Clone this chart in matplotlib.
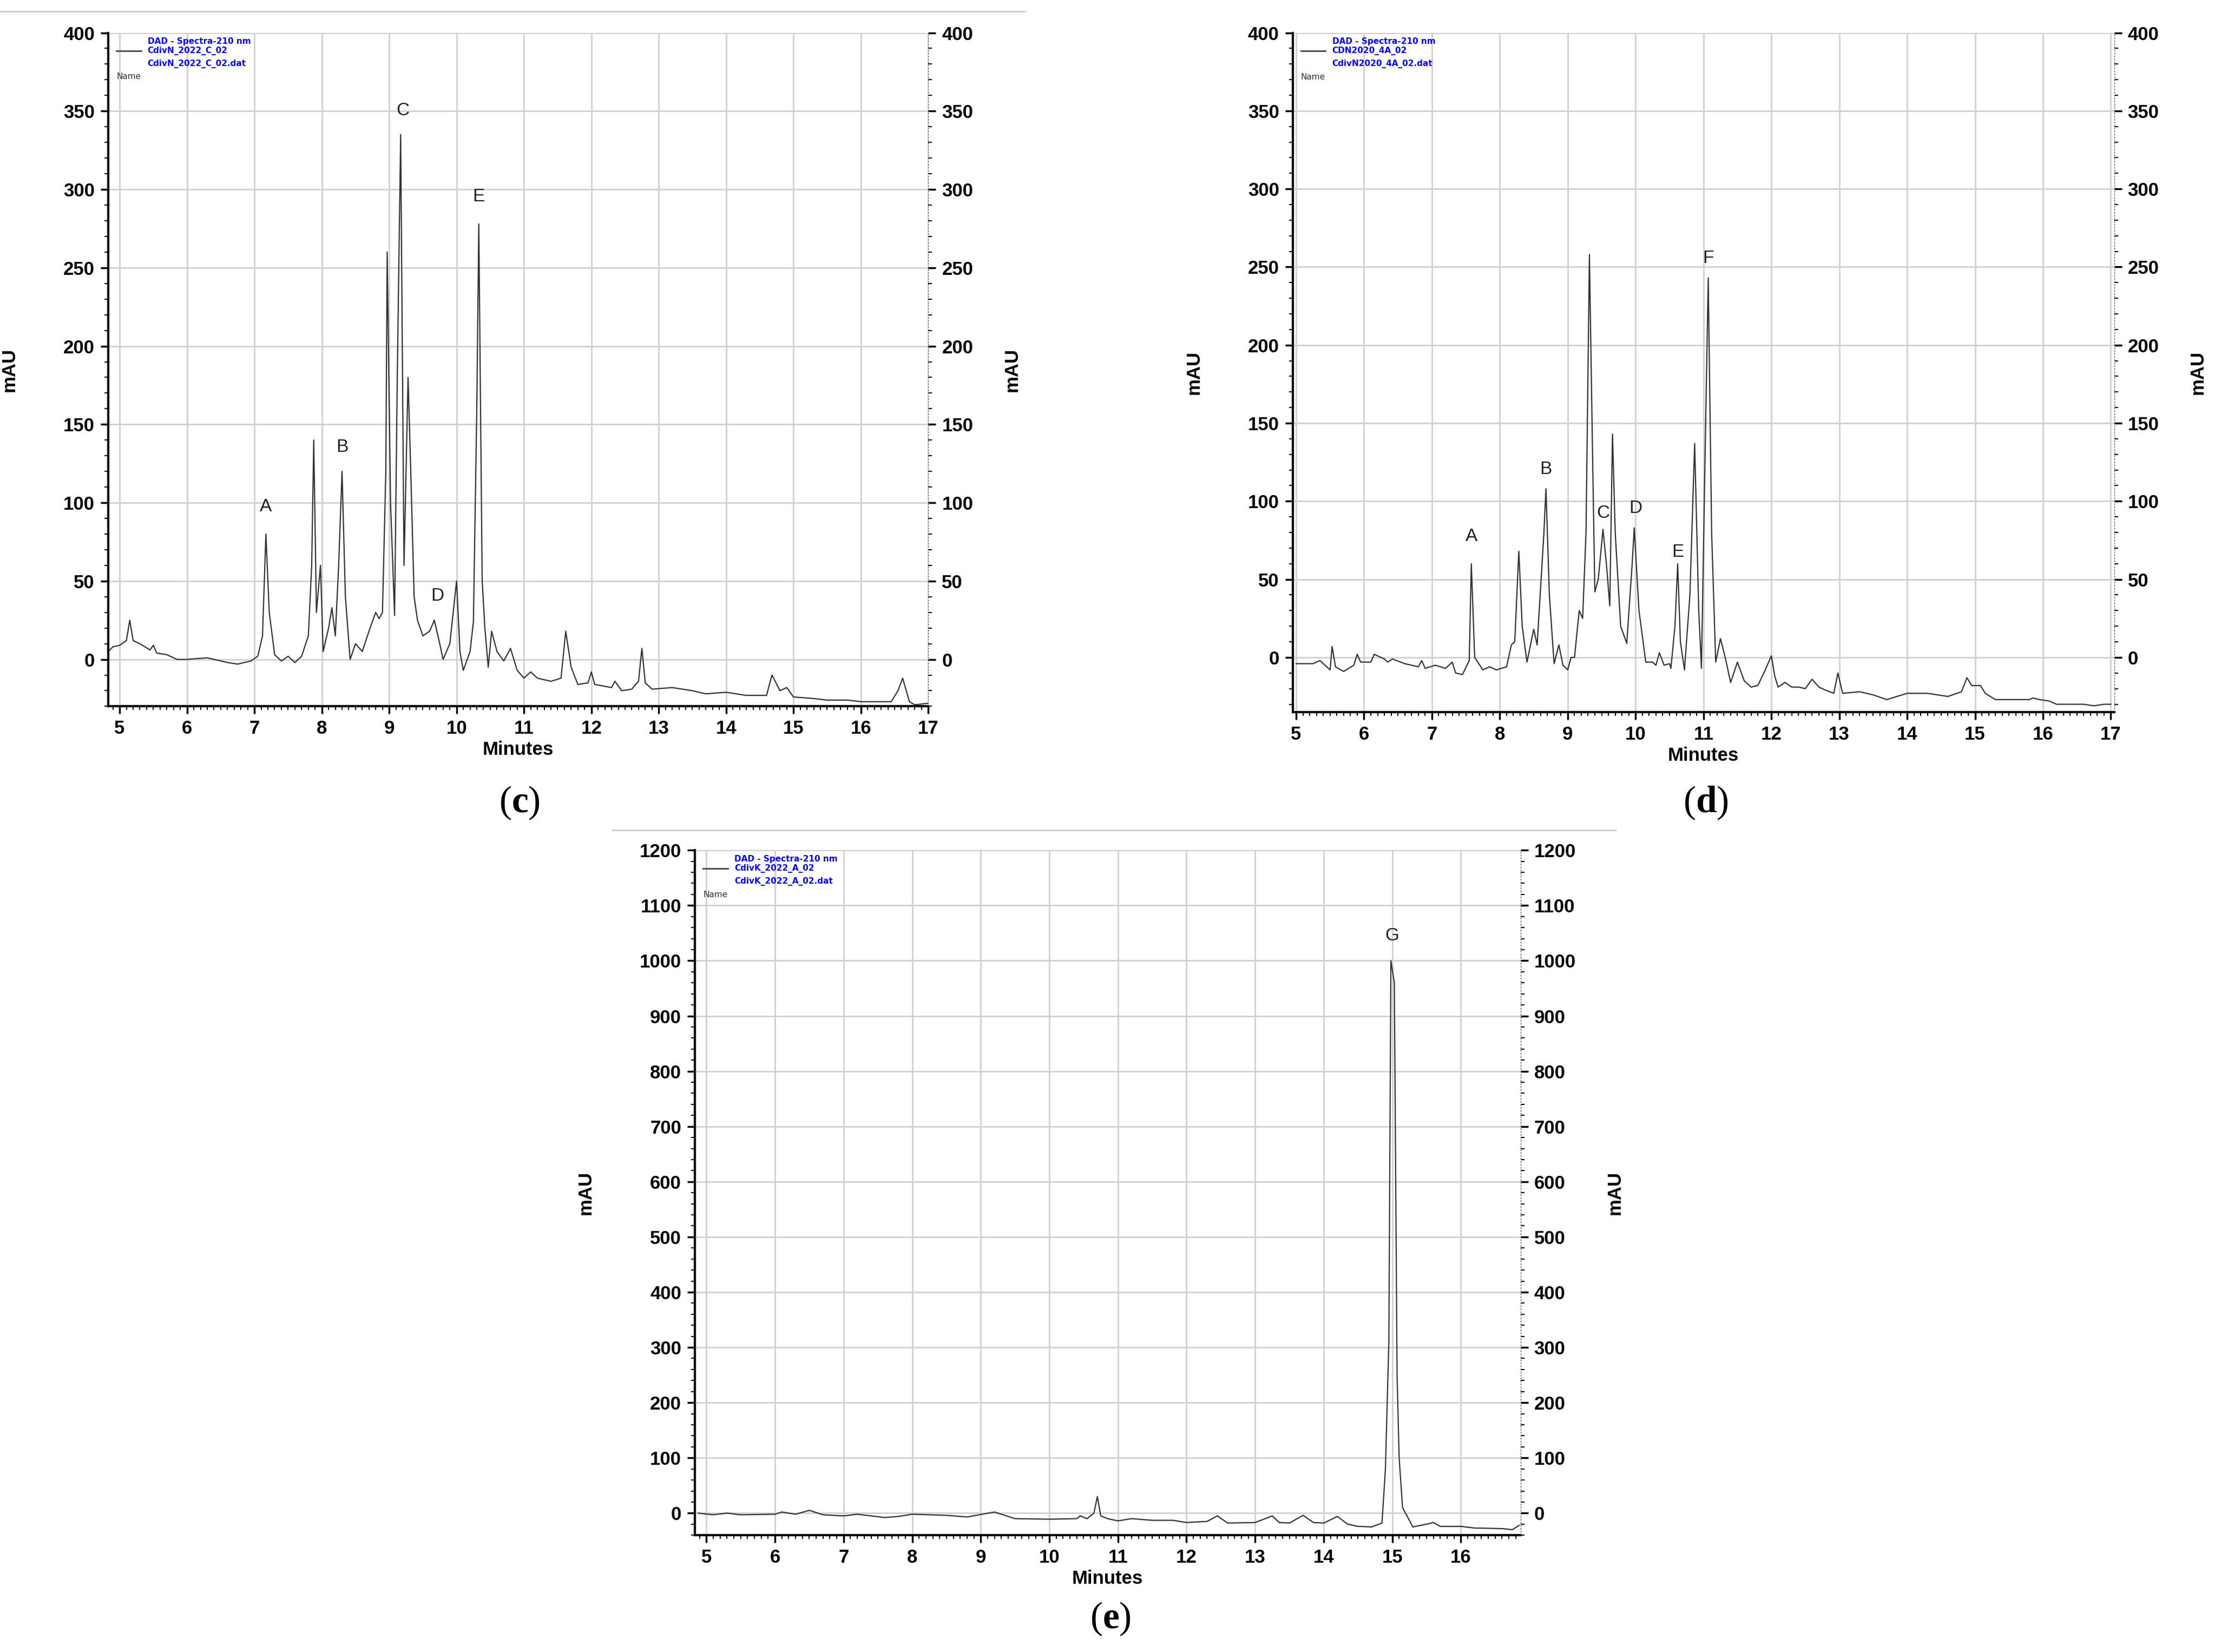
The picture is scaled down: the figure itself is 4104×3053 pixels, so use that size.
import matplotlib
matplotlib.use('Agg')
import matplotlib.pyplot as plt
from matplotlib.ticker import MultipleLocator
from matplotlib.lines import Line2D

plt.rcParams['mathtext.fontset'] = 'custom'
plt.rcParams['mathtext.rm'] = 'Liberation Serif'
plt.rcParams['mathtext.bf'] = 'Liberation Serif:bold'

# chromatogram (c)
t_c = [4.83, 4.9, 5.0, 5.1, 5.15, 5.2, 5.3, 5.45, 5.5, 5.55, 5.7, 5.85, 6.0, 6.3, 6.5, 6.6, 6.75, 6.95,
       7.05, 7.12, 7.17, 7.22, 7.3, 7.4, 7.5, 7.6, 7.7, 7.8, 7.85, 7.88, 7.92, 7.98, 8.02, 8.1, 8.15, 8.2,
       8.25, 8.3, 8.35, 8.42, 8.5, 8.6, 8.7, 8.8, 8.85, 8.9, 8.95, 8.97, 9.02, 9.08, 9.12, 9.17, 9.22,
       9.28, 9.32, 9.37, 9.42, 9.5, 9.6, 9.67, 9.75, 9.8, 9.9, 10.0, 10.05, 10.1, 10.2, 10.25, 10.3,
       10.33, 10.38, 10.42, 10.47, 10.52, 10.6, 10.7, 10.8, 10.9, 11.0, 11.1, 11.2, 11.4, 11.55, 11.62,
       11.7, 11.8, 11.95, 12.0, 12.05, 12.3, 12.35, 12.45, 12.6, 12.7, 12.75, 12.8, 12.9, 13.2, 13.5,
       13.7, 14.0, 14.3, 14.6, 14.68, 14.8, 14.9, 15.0, 15.3, 15.5, 15.8, 16.0, 16.45, 16.55, 16.62,
       16.72, 16.8, 17.0]
v_c = [5, 8, 9, 12, 25, 12, 10, 6, 9, 4, 3, 0, 0, 1, -1, -2, -3, -1,
       2, 15, 80, 30, 3, -1, 2, -2, 2, 15, 60, 140, 30, 60, 5, 20, 33, 15,
       60, 120, 40, 0, 10, 5, 18, 30, 26, 30, 120, 260, 100, 28, 180, 335, 60,
       180, 120, 40, 25, 15, 18, 25, 10, 0, 10, 50, 5, -7, 5, 24, 160,
       278, 50, 20, -5, 18, 5, -1, 7, -7, -12, -8, -12, -14, -12, 18,
       -5, -16, -15, -8, -16, -18, -14, -20, -19, -14, 7, -15, -19, -18, -20,
       -22, -21, -23, -23, -10, -20, -18, -24, -25, -26, -26, -27, -27, -20, -12,
       -27, -29, -28]

# chromatogram (d)
t_d = [5.0, 5.25, 5.35, 5.5, 5.53, 5.58, 5.7, 5.85, 5.9, 5.95, 6.1, 6.15, 6.3, 6.35, 6.42, 6.6, 6.8,
       6.85, 6.9, 7.05, 7.2, 7.3, 7.35, 7.45, 7.55, 7.58, 7.63, 7.75, 7.85, 7.95, 8.1, 8.17, 8.22, 8.28,
       8.33, 8.4, 8.5, 8.55, 8.65, 8.68, 8.73, 8.8, 8.87, 8.93, 9.0, 9.05, 9.1, 9.17, 9.22, 9.27, 9.32,
       9.37, 9.4, 9.45, 9.52, 9.57, 9.62, 9.66, 9.7, 9.78, 9.87, 9.95, 9.98, 10.05, 10.15, 10.25, 10.3,
       10.35, 10.42, 10.5, 10.52, 10.58, 10.62, 10.66, 10.72, 10.8, 10.87, 10.93, 10.97, 11.02, 11.07,
       11.12, 11.18, 11.25, 11.32, 11.4, 11.5, 11.6, 11.7, 11.8, 11.9, 12.0, 12.05, 12.1, 12.2, 12.3,
       12.4, 12.5, 12.6, 12.7, 12.8, 12.92, 12.98, 13.05, 13.3, 13.5, 13.7, 14.0, 14.3, 14.6, 14.8,
       14.88, 14.95, 15.08, 15.15, 15.3, 15.6, 15.8, 15.85, 15.95, 16.1, 16.2, 16.6, 16.75, 16.9, 17.0]
v_d = [-4, -4, -2, -8, 7, -6, -9, -5, 2, -3, -3, 2, -1, -3, -1, -4, -6,
       -2, -7, -5, -7, -3, -10, -11, -2, 60, 0, -8, -6, -8, -6, 8, 10, 68,
       20, -3, 18, 8, 80, 108, 40, -4, 8, -5, -8, 0, 0, 30, 25, 80, 258,
       120, 42, 50, 82, 60, 33, 143, 80, 20, 9, 60, 83, 30, -3, -3, -5,
       3, -5, -4, -7, 20, 60, 10, -8, 40, 137, 30, -7, 120, 243,
       80, -3, 12, 0, -16, -3, -15, -19, -18, -9, 1, -12, -19, -16, -19,
       -19, -20, -14, -19, -21, -23, -10, -23, -22, -24, -27, -23, -23, -25, -22,
       -13, -18, -18, -23, -27, -27, -27, -26, -27, -28, -30, -30, -31, -30, -30]

# chromatogram (e)
t_e = [4.88, 5.1, 5.3, 5.5, 6.0, 6.1, 6.3, 6.5, 6.7, 7.0, 7.2, 7.6, 7.8, 8.0, 8.5, 8.8, 9.2, 9.5,
       10.0, 10.4, 10.45, 10.55, 10.65, 10.7, 10.75, 10.85, 11.0, 11.2, 11.5, 11.8, 12.0, 12.3, 12.45,
       12.6, 13.0, 13.25, 13.35, 13.5, 13.7, 13.85, 14.0, 14.2, 14.35, 14.5, 14.7, 14.85, 14.9, 14.95,
       14.98, 15.03, 15.07, 15.1, 15.15, 15.3, 15.5, 15.6, 15.7, 16.0, 16.2, 16.6, 16.75, 16.85]
v_e = [0, -3, 0, -3, -2, 2, -2, 5, -3, -5, -2, -8, -6, -2, -4, -7, 2, -10,
       -11, -10, -5, -10, 0, 30, -5, -10, -14, -10, -13, -13, -17, -15, -5,
       -18, -17, -5, -17, -18, -4, -17, -18, -6, -20, -24, -25, -18, 80, 310,
       1000, 960, 250, 100, 10, -25, -20, -17, -24, -24, -27, -28, -30, -22]

peaks_c = [('A', 7.17, 92), ('B', 8.3, 130), ('C', 9.2, 345), ('D', 9.72, 35), ('E', 10.33, 290)]
peaks_d = [('A', 7.58, 72), ('B', 8.68, 115), ('C', 9.52, 87), ('D', 10.0, 90), ('E', 10.62, 62), ('F', 11.07, 250)]
peaks_e = [('G', 15.0, 1030)]

W, H = 1560.0, 1160.0
fig = plt.figure(figsize=(41.04, 30.53), dpi=100)
tick_font = {'family': 'Liberation Sans', 'weight': 'bold', 'size': 25}


def chrom(rect, t, v, xlim, ylim, ystep, peaks, names, panel, panel_xy):
    ax = fig.add_axes(rect)
    ax.plot(t, v, color='#333333', lw=1.6)
    ax.set_xlim(*xlim)
    ax.set_ylim(*ylim)
    ax.xaxis.set_major_locator(MultipleLocator(1))
    ax.xaxis.set_minor_locator(MultipleLocator(0.1))
    ax.yaxis.set_major_locator(MultipleLocator(ystep))
    ax.yaxis.set_minor_locator(MultipleLocator(ystep / 5))
    ax.grid(True, which='major', color='#d0d0d0', lw=2)
    ax.spines['top'].set_color('#c8c8c8')
    ax.spines['right'].set_visible(False)
    ax.spines['left'].set_linewidth(3)
    ax.spines['bottom'].set_linewidth(3)
    ax.tick_params(which='major', length=10, width=2.5, pad=8)
    ax.tick_params(which='minor', length=5, width=1.5)
    for lab in ax.get_xticklabels() + ax.get_yticklabels():
        lab.set(**tick_font)
    ax.set_xlabel('Minutes', fontdict=tick_font, labelpad=4)
    ax.set_ylabel('mAU', fontdict=tick_font, labelpad=60)
    ax2 = ax.twinx()
    ax2.set_ylim(*ylim)
    ax2.yaxis.set_major_locator(MultipleLocator(ystep))
    ax2.yaxis.set_minor_locator(MultipleLocator(ystep / 5))
    ax2.spines['right'].set_linestyle((0, (2, 3)))
    ax2.spines['right'].set_color('#555555')
    ax2.spines['top'].set_visible(False)
    ax2.tick_params(which='major', length=10, width=2.5, pad=8)
    ax2.tick_params(which='minor', length=5, width=1.5)
    for lab in ax2.get_yticklabels():
        lab.set(**tick_font)
    ax2.set_ylabel('mAU', fontdict=tick_font, labelpad=40)
    for name, x, y in peaks:
        ax.text(x, y, name, ha='center', va='bottom', fontsize=24, family='Liberation Sans', color='#222222')
    # header legend
    ax.text(0.048, 0.993, 'DAD - Spectra-210 nm', transform=ax.transAxes, color='blue',
            fontsize=11, weight='bold', va='top')
    ax.add_line(Line2D([0.01, 0.04], [0.973, 0.973], transform=ax.transAxes, color='#444444', lw=2))
    ax.text(0.048, 0.973, names[0], transform=ax.transAxes, color='blue', fontsize=11, weight='bold', va='center')
    ax.text(0.048, 0.954, names[1], transform=ax.transAxes, color='blue', fontsize=11, weight='bold', va='center')
    ax.text(0.01, 0.935, 'Name', transform=ax.transAxes, color='#333333', fontsize=11, va='center')
    fig.text(panel_xy[0] / W, 1 - panel_xy[1] / H, r'($\mathbf{%s}$)' % panel, fontsize=50,
             family='Liberation Serif', ha='center', va='center')
    return ax


chrom([76 / W, 1 - 496 / H, 576 / W, 473 / H], t_c, v_c, (4.83, 17.0), (-30, 400), 50, peaks_c,
      ['CdivN_2022_C_02', 'CdivN_2022_C_02.dat'], 'c', (365, 564))
chrom([908 / W, 1 - 500 / H, 577 / W, 477 / H], t_d, v_d, (4.95, 17.05), (-35, 400), 50, peaks_d,
      ['CDN2020_4A_02', 'CdivN2020_4A_02.dat'], 'd', (1198, 564))
chrom([488 / W, 1 - 1078 / H, 580 / W, 481 / H], t_e, v_e, (4.83, 16.87), (-40, 1200), 100, peaks_e,
      ['CdivK_2022_A_02', 'CdivK_2022_A_02.dat'], 'e', (780, 1137))

# separator rules
fig.add_artist(Line2D([0.0, 720 / W], [1 - 8 / H, 1 - 8 / H], color='#cccccc', lw=2))
fig.add_artist(Line2D([430 / W, 1135 / W], [1 - 583 / H, 1 - 583 / H], color='#cccccc', lw=2))

fig.savefig('out.png', dpi=100)
